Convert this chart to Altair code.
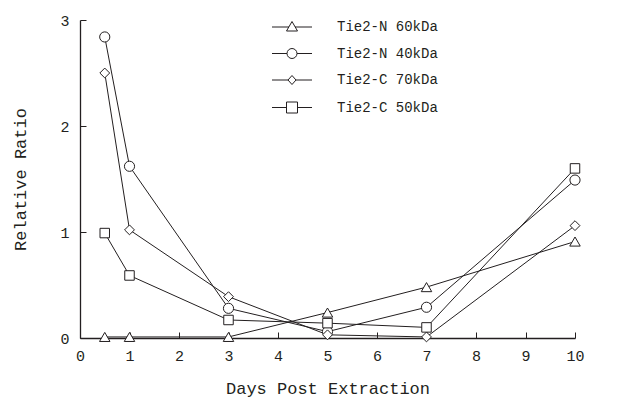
import altair as alt
import pandas as pd

days = [0.5, 1, 3, 5, 7, 10]
series_names = ["Tie2-N 60kDa", "Tie2-N 40kDa", "Tie2-C 70kDa", "Tie2-C 50kDa"]
n60 = [0.01, 0.01, 0.01, 0.24, 0.48, 0.91]
n40 = [2.84, 1.62, 0.28, 0.06, 0.29, 1.49]
c70 = [2.50, 1.02, 0.39, 0.03, 0.01, 1.06]
c50 = [0.99, 0.59, 0.17, 0.14, 0.10, 1.60]
x_ticks = list(range(0, 11))
y_ticks = [0, 1, 2, 3]

rows = []
for name, vals in zip(series_names, [n60, n40, c70, c50]):
    for d, v in zip(days, vals):
        rows.append({"day": d, "ratio": v, "series": name})
df = pd.DataFrame(rows)

INK = "#231f20"
FONT = "Liberation Mono"

xscale = alt.Scale(domain=[0, 10], nice=False, zero=False)
yscale = alt.Scale(domain=[0, 3], nice=False)

x_main_axis = alt.Axis(orient="bottom", values=x_ticks, ticks=False, grid=False,
                       domainColor=INK, domainWidth=1.3, labelFont=FONT, labelFontSize=15,
                       labelColor=INK, labelPadding=10, labelFlush=False, labelOverlap=False,
                       titleFont=FONT, titleFontSize=17,
                       titleFontWeight="normal", titleColor=INK, titlePadding=17)
y_main_axis = alt.Axis(orient="left", values=y_ticks, ticks=False, grid=False,
                       domainColor=INK, domainWidth=1.3, labelFont=FONT, labelFontSize=15,
                       labelColor=INK, labelPadding=11, labelFlush=False,
                       titleFont=FONT, titleFontSize=17,
                       titleFontWeight="normal", titleColor=INK, titlePadding=30)
x_tick_axis = alt.Axis(orient="bottom", values=x_ticks, ticks=True, tickSize=6, tickColor=INK,
                       tickWidth=1, domain=False, labels=False, grid=False, offset=-6)
y_tick_axis = alt.Axis(orient="left", values=y_ticks, ticks=True, tickSize=6, tickColor=INK,
                       tickWidth=1, domain=False, labels=False, grid=False, offset=-6)

lines = alt.Chart(df).mark_line(color=INK, strokeWidth=1).encode(
    x=alt.X("day:Q", scale=xscale, axis=x_main_axis, title="Days Post Extraction"),
    y=alt.Y("ratio:Q", scale=yscale, axis=y_main_axis, title="Relative Ratio"),
    detail="series:N",
)

points = alt.Chart(df).mark_point(filled=True, fill="white", stroke=INK, strokeWidth=1, opacity=1).encode(
    x=alt.X("day:Q", scale=xscale, axis=None),
    y=alt.Y("ratio:Q", scale=yscale, axis=None),
    shape=alt.Shape("series:N", scale=alt.Scale(domain=series_names,
                    range=["triangle-up", "circle", "diamond", "square"]), legend=None),
    size=alt.Size("series:N", scale=alt.Scale(domain=series_names, range=[110, 90, 70, 130]), legend=None),
)

legend_paths = [
    "M-4,0H-0.6M0.6,0H4M0,-1.1L1.1,0.8L-1.1,0.8Z",
    "M-4,0H-1M1,0H4M-1,0A1,1,0,1,0,1,0A1,1,0,1,0,-1,0Z",
    "M-4,0H-0.8M0.8,0H4M0,-0.9L0.8,0L0,0.9L-0.8,0Z",
    "M-4,0H-1.1M1.1,0H4M-1.1,-1.1H1.1V1.1H-1.1Z",
]

legend_layer = alt.Chart(df).transform_filter("false").mark_point(
    filled=False, color=INK, strokeWidth=1, opacity=1
).encode(
    x=alt.X("day:Q", scale=xscale, axis=x_tick_axis, title=None),
    y=alt.Y("ratio:Q", scale=yscale, axis=y_tick_axis, title=None),
    shape=alt.Shape("series:N", scale=alt.Scale(domain=series_names, range=legend_paths),
                    legend=alt.Legend(orient="none", legendX=205, legendY=0, title=None,
                                      symbolSize=100, symbolStrokeColor=INK,
                                      symbolStrokeWidth=1, symbolOpacity=1,
                                      labelFont=FONT, labelFontSize=14, labelColor=INK,
                                      labelOffset=38, rowPadding=12.5, padding=0)),
)

chart = alt.layer(lines, points, legend_layer).resolve_scale(
    shape="independent", size="independent"
).resolve_axis(x="independent", y="independent").properties(
    width=495, height=318,
    autosize=alt.AutoSizeParams(type="none"),
    padding={"left": 72, "top": 12, "right": 45, "bottom": 62},
).configure_view(stroke=None)

chart.save("out.html", embed_options={"renderer": "svg", "actions": False})
